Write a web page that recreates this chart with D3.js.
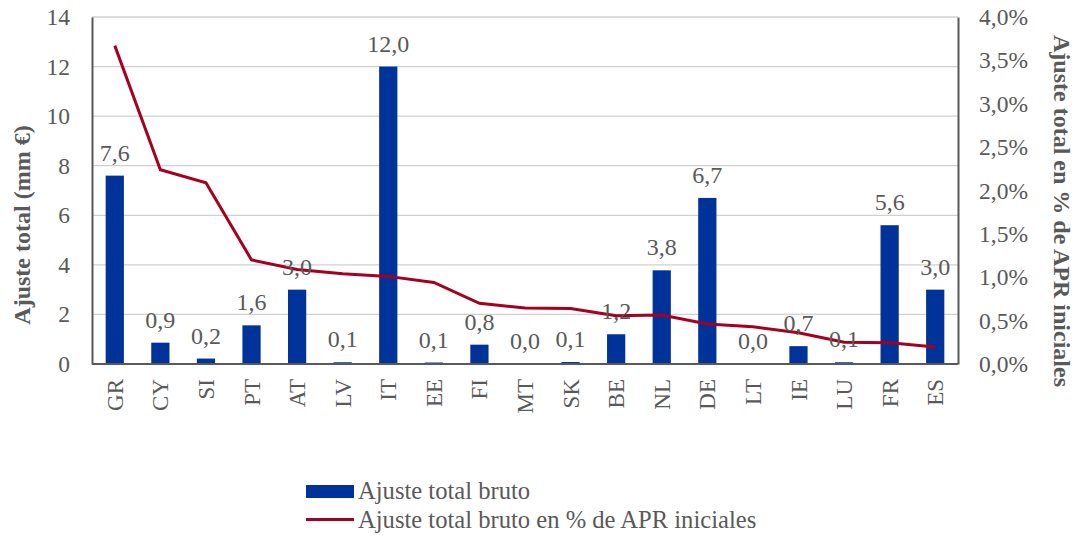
<!DOCTYPE html>
<html>
<head>
<meta charset="utf-8">
<script src="https://cdn.jsdelivr.net/npm/d3@7"></script>
<style>
  body { margin: 0; background: #fff; }
  svg text { font-family: 'Liberation Serif', 'Times New Roman', Tinos, 'DejaVu Serif', serif !important; fill: #595959; }
</style>
</head>
<body>
<script>
const countries = ["GR", "CY", "SI", "PT", "AT", "LV", "IT", "EE", "FI", "MT", "SK", "BE", "NL", "DE", "LT", "IE", "LU", "FR", "ES"];
// ajuste total bruto (mm €)
const ajuste = [7.6, 0.86, 0.22, 1.56, 3.0, 0.07, 12.0, 0.06, 0.78, 0.0, 0.08, 1.2, 3.78, 6.7, 0.0, 0.72, 0.07, 5.6, 3.0];
// ajuste en % de APR iniciales
const ajustePct = [3.67, 2.24, 2.09, 1.20, 1.09, 1.04, 1.01, 0.94, 0.70, 0.645, 0.64, 0.556, 0.565, 0.46, 0.43, 0.36, 0.25, 0.245, 0.196];
const leftTicks = [0, 2, 4, 6, 8, 10, 12, 14];
const rightTicks = [0, 0.5, 1, 1.5, 2, 2.5, 3, 3.5, 4];

const width = 1081, height = 536;
const margin = { top: 17, right: 123, bottom: 172, left: 92 };
const serif = "'Liberation Serif', 'Times New Roman', serif";
const fs = "24px";

const loc = d3.formatLocale({ decimal: ",", thousands: ".", grouping: [3], currency: ["", "€"] });
const f1 = loc.format(".1f");

const svg = d3.select("body").append("svg")
  .attr("width", width)
  .attr("height", height)
  .style("font-family", serif);

const x = d3.scaleBand()
  .domain(countries)
  .range([margin.left, width - margin.right]);

const y = d3.scaleLinear().domain([0, 14]).range([height - margin.bottom, margin.top]);
const y2 = d3.scaleLinear().domain([0, 4]).range([height - margin.bottom, margin.top]);

// gridlines
svg.append("g")
  .selectAll("line")
  .data(leftTicks.slice(1))
  .join("line")
  .attr("x1", margin.left).attr("x2", width - margin.right)
  .attr("y1", d => y(d)).attr("y2", d => y(d))
  .attr("stroke", "#d0d0d0")
  .attr("stroke-width", 1.3);

// bars
const barW = x.bandwidth() * 0.4;
svg.append("g")
  .selectAll("rect")
  .data(countries)
  .join("rect")
  .attr("x", (d) => x(d) + (x.bandwidth() - barW) / 2)
  .attr("width", barW)
  .attr("y", (d, i) => y(ajuste[i]))
  .attr("height", (d, i) => y(0) - y(ajuste[i]))
  .attr("fill", "#003399");

// axes
const yAxis = svg.append("g")
  .attr("transform", `translate(${margin.left},0)`)
  .call(d3.axisLeft(y).tickValues(leftTicks).tickSize(0).tickPadding(22));
const y2Axis = svg.append("g")
  .attr("transform", `translate(${width - margin.right},0)`)
  .call(d3.axisRight(y2).tickValues(rightTicks).tickSize(0).tickPadding(21)
    .tickFormat(d => f1(d) + "%"));
[yAxis, y2Axis].forEach(g => {
  g.attr("font-family", null).attr("font-size", null);
  g.select(".domain").attr("stroke", "#595959").attr("stroke-width", 2);
  g.selectAll("text").style("font-size", "23.5px").attr("fill", "#595959");
});

// x baseline
svg.append("line")
  .attr("x1", margin.left).attr("x2", width - margin.right)
  .attr("y1", y(0)).attr("y2", y(0))
  .attr("stroke", "#595959").attr("stroke-width", 2);

// x labels
svg.append("g")
  .selectAll("text")
  .data(countries)
  .join("text")
  .attr("transform", d => `translate(${x(d) + x.bandwidth() / 2},${y(0) + 15}) rotate(-90)`)
  .attr("text-anchor", "end")
  .attr("dy", "0.35em")
  .style("font-size", "23px")
  .text(d => d);

// line
const line = d3.line()
  .x((d, i) => x(countries[i]) + x.bandwidth() / 2)
  .y(d => y2(d));
svg.append("path")
  .datum(ajustePct)
  .attr("d", line)
  .attr("fill", "none")
  .attr("stroke", "#A50021")
  .attr("stroke-width", 3);

// data labels
svg.append("g")
  .selectAll("text")
  .data(countries)
  .join("text")
  .attr("x", d => x(d) + x.bandwidth() / 2)
  .attr("y", (d, i) => y(ajuste[i]) - 15)
  .attr("text-anchor", "middle")
  .style("font-size", fs)
  .text((d, i) => f1(ajuste[i]));

// axis titles
svg.append("text")
  .attr("transform", `translate(30,225) rotate(-90)`)
  .attr("text-anchor", "middle")
  .style("font-size", fs)
  .attr("font-weight", "bold")
  .text("Ajuste total (mm €)");
svg.append("text")
  .attr("transform", `translate(1054,211) rotate(90)`)
  .attr("text-anchor", "middle")
  .style("font-size", fs)
  .attr("font-weight", "bold")
  .text("Ajuste total en % de APR iniciales");

// legend
const legend = svg.append("g").attr("transform", "translate(306,0)");
legend.append("rect")
  .attr("x", 0).attr("y", 485).attr("width", 48).attr("height", 13)
  .attr("fill", "#003399");
legend.append("text")
  .attr("x", 52).attr("y", 499)
  .style("font-size", "24.6px")
  .text("Ajuste total bruto");
legend.append("line")
  .attr("x1", 0).attr("x2", 48).attr("y1", 519.5).attr("y2", 519.5)
  .attr("stroke", "#A50021").attr("stroke-width", 3);
legend.append("text")
  .attr("x", 52).attr("y", 528)
  .style("font-size", "24.6px")
  .text("Ajuste total bruto en % de APR iniciales");
</script>
</body>
</html>
